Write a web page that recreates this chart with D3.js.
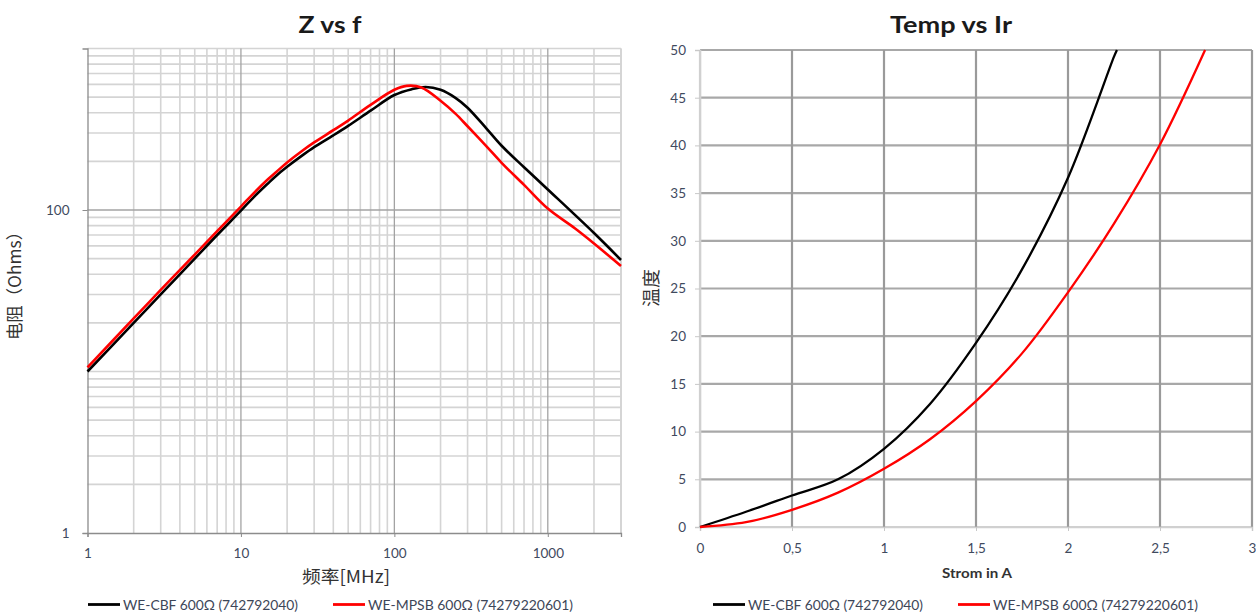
<!DOCTYPE html>
<html><head><meta charset="utf-8">
<script src="https://cdn.jsdelivr.net/npm/d3@7/dist/d3.min.js"></script>
<style>body{margin:0;background:#fff} svg{display:block}</style>
</head><body><svg id="c" width="1256" height="612"></svg>
<script>
// ---------- data ----------
const freqCBF  = [1,2,3,5,7,10,12,15,17,20,25,30,40,50,70,100,130,160,200,250,300,400,500,700,1000,2000,3000];
const zCBF     = [10.0,20.0,30,50,70,99,119,146,163,185,217,245,290,332,412,515,560,578,555,495,430,318,250,184,134,72,49];
const freqMPSB = [1,2,3,5,7,10,12,15,17,20,25,30,40,50,70,100,120,150,200,250,300,400,500,700,1000,1500,2000,3000];
const zMPSB    = [10.6,21.3,32,53,74,105,126,155,172,197,232,262,312,358,448,555,587,574,475,395,330,247,196,143,102,77,62,45];

const currentCBF  = [0,0.25,0.5,0.75,1,1.25,1.5,1.75,2,2.25,2.266];
const tempCBF     = [0,1.6,3.3,5.0,8.2,12.9,19.3,27.0,36.6,49.3,50];
const currentMPSB = [0,0.25,0.5,0.75,1,1.25,1.5,1.75,2,2.25,2.5,2.745];
const tempMPSB    = [0,0.5,1.8,3.6,6.1,9.2,13.2,18.2,24.6,31.8,40.1,50];

const fTickValues = [1,10,100,1000];
const zTickValues = [1,100];
const iTickValues = [0,0.5,1,1.5,2,2.5,3];
const iTickLabels = ["0","0,5","1","1,5","2","2,5","3"];
const tTickValues = [0,5,10,15,20,25,30,35,40,45,50];

const seriesNames  = ["WE-CBF 600Ω (742792040)","WE-MPSB 600Ω (74279220601)"];
const seriesColors = ["#000000","#ff0000"];

// ---------- setup ----------
const svg = d3.select("#c");
const LAT = "Lato, 'Open Sans', sans-serif";
const CJK = "'Noto Sans CJK SC', sans-serif";
const tickColor = "#3f4a5e";

// ===== Left chart: Z vs f =====
const x1 = d3.scaleLog().domain([1,3000]).range([87.5,621]);
const y1 = d3.scaleLog().domain([1,1000]).range([533,48.5]);
const g1 = svg.append("g");

const minorF = [], minorZ = [];
[1,10,100,1000].forEach(d => { for (let k=2;k<=9;k++){ if (k*d<=3000) minorF.push(k*d); if (k*d<1000) minorZ.push(k*d);} });
minorZ.push(10, 1000);
g1.append("g").selectAll("line").data(minorF).join("line")
  .attr("x1",d=>x1(d)).attr("x2",d=>x1(d)).attr("y1",y1(1)).attr("y2",y1(1000))
  .attr("stroke","#d4d4d4").attr("stroke-width",1.6);
g1.append("g").selectAll("line").data(minorZ).join("line")
  .attr("x1",x1(1)).attr("x2",x1(3000)).attr("y1",d=>y1(d)).attr("y2",d=>y1(d))
  .attr("stroke","#d4d4d4").attr("stroke-width",1.6);
g1.append("g").selectAll("line").data([10,100,1000]).join("line")
  .attr("x1",d=>x1(d)).attr("x2",d=>x1(d)).attr("y1",y1(1)).attr("y2",y1(1000))
  .attr("stroke","#a3a3a3").attr("stroke-width",1.3);
g1.append("g").selectAll("line").data([100]).join("line")
  .attr("x1",x1(1)).attr("x2",x1(3000)).attr("y1",d=>y1(d)).attr("y2",d=>y1(d))
  .attr("stroke","#a3a3a3").attr("stroke-width",1.3);
g1.append("line").attr("x1",x1(3000)).attr("x2",x1(3000)).attr("y1",y1(1)).attr("y2",y1(1000))
  .attr("stroke","#d4d4d4").attr("stroke-width",1.6);

const ax1 = g1.append("g").attr("transform",`translate(0,${y1(1)})`)
  .call(d3.axisBottom(x1).tickValues(fTickValues).tickFormat(d3.format("d")).tickSize(4).tickPadding(11));
const ay1 = g1.append("g").attr("transform",`translate(${x1(1)},0)`)
  .call(d3.axisLeft(y1).tickValues(zTickValues).tickFormat(d3.format("d")).tickSize(5).tickPadding(13));
[ax1,ay1].forEach(a=>{
  a.select(".domain").attr("stroke","#8c8c8c").attr("stroke-width",1.3);
  a.selectAll(".tick line").attr("stroke","#8c8c8c");
  a.selectAll("text").attr("fill",tickColor).style("font-family",LAT).style("font-size","13.5px");
});

const line1 = d3.line().x(d=>x1(d[0])).y(d=>y1(d[1])).curve(d3.curveCatmullRom.alpha(0.5));
[[freqCBF,zCBF],[freqMPSB,zMPSB]].forEach((s,i)=>{
  g1.append("path").datum(s[0].map((f,j)=>[f,s[1][j]]))
    .attr("d",line1).attr("fill","none").attr("stroke",seriesColors[i]).attr("stroke-width",2.6);
});

g1.append("text").attr("x",330).attr("y",33).attr("text-anchor","middle")
  .attr("textLength",63).attr("lengthAdjust","spacingAndGlyphs")
  .style("font-family",LAT).style("font-weight","bold").style("font-size","22px").attr("fill","#1a1a1a").text("Z vs f");
g1.append("text").attr("x",346).attr("y",583).attr("text-anchor","middle")
  .attr("textLength",88).attr("lengthAdjust","spacingAndGlyphs")
  .style("font-family",CJK).style("font-size","17px").attr("fill","#333").text("频率[MHz]");
g1.append("text").attr("transform","translate(21,281.5) rotate(-90)").attr("text-anchor","middle")
  .attr("textLength",117).attr("lengthAdjust","spacingAndGlyphs")
  .style("font-family",CJK).style("font-size","17px").attr("fill","#333").text("电阻（Ohms）");

// ===== Right chart: Temp vs Ir =====
const x2 = d3.scaleLinear().domain([0,3]).range([700,1252]);
const y2 = d3.scaleLinear().domain([0,50]).range([527,50]);
const g2 = svg.append("g");

g2.append("g").selectAll("line").data(tTickValues).join("line")
  .attr("x1",x2(0)).attr("x2",x2(3)).attr("y1",d=>y2(d)).attr("y2",d=>y2(d))
  .attr("stroke",d=>d===0?"#d0d0d0":"#a8a8a8").attr("stroke-width",2.2);
g2.append("g").selectAll("line").data(iTickValues).join("line")
  .attr("x1",d=>x2(d)).attr("x2",d=>x2(d)).attr("y1",y2(0)).attr("y2",y2(50))
  .attr("stroke",d=>d===0?"#d0d0d0":"#9a9a9a").attr("stroke-width",2.2);

const ax2 = g2.append("g").attr("transform",`translate(0,${y2(0)})`)
  .call(d3.axisBottom(x2).tickValues(iTickValues).tickFormat((d,i)=>iTickLabels[i]).tickSize(4).tickPadding(12));
const ay2 = g2.append("g").attr("transform",`translate(${x2(0)},0)`)
  .call(d3.axisLeft(y2).tickValues(tTickValues).tickFormat(d3.format("d")).tickSize(5).tickPadding(9));
[ax2,ay2].forEach(a=>{
  a.select(".domain").attr("stroke","#d0d0d0").attr("stroke-width",1.5);
  a.selectAll(".tick line").attr("stroke","#c8c8c8");
  a.selectAll("text").attr("fill",tickColor).style("font-family",LAT).style("font-size","13.5px");
});

const line2 = d3.line().x(d=>x2(d[0])).y(d=>y2(d[1])).curve(d3.curveCatmullRom.alpha(0.5));
[[currentCBF,tempCBF],[currentMPSB,tempMPSB]].forEach((s,i)=>{
  g2.append("path").datum(s[0].map((c,j)=>[c,s[1][j]]))
    .attr("d",line2).attr("fill","none").attr("stroke",seriesColors[i]).attr("stroke-width",2.3);
});

g2.append("text").attr("x",951).attr("y",33).attr("text-anchor","middle")
  .attr("textLength",122).attr("lengthAdjust","spacingAndGlyphs")
  .style("font-family",LAT).style("font-weight","bold").style("font-size","22px").attr("fill","#1a1a1a").text("Temp vs Ir");
g2.append("text").attr("x",977).attr("y",578).attr("text-anchor","middle")
  .attr("textLength",70).attr("lengthAdjust","spacingAndGlyphs")
  .style("font-family",LAT).style("font-weight","bold").style("font-size","13px").attr("fill","#333").text("Strom in A");
g2.append("text").attr("transform","translate(658,288) rotate(-90)").attr("text-anchor","middle")
  .attr("textLength",38).attr("lengthAdjust","spacingAndGlyphs")
  .style("font-family",CJK).style("font-size","18px").attr("fill","#333").text("温度");

// ===== Legends =====
const legendWidths = [175,205];
function legend(xs){
  const lg = svg.append("g");
  seriesNames.forEach((n,i)=>{
    const lx = xs[i];
    lg.append("line").attr("x1",lx).attr("x2",lx+32).attr("y1",604.5).attr("y2",604.5)
      .attr("stroke",seriesColors[i]).attr("stroke-width",2.8);
    lg.append("text").attr("x",lx+35).attr("y",609.5)
      .attr("textLength",legendWidths[i]).attr("lengthAdjust","spacingAndGlyphs")
      .style("font-family",LAT).style("font-size","13px")
      .attr("fill","#3d4658").text(n);
  });
}
legend([88,333]);
legend([713,958]);
</script></body></html>
